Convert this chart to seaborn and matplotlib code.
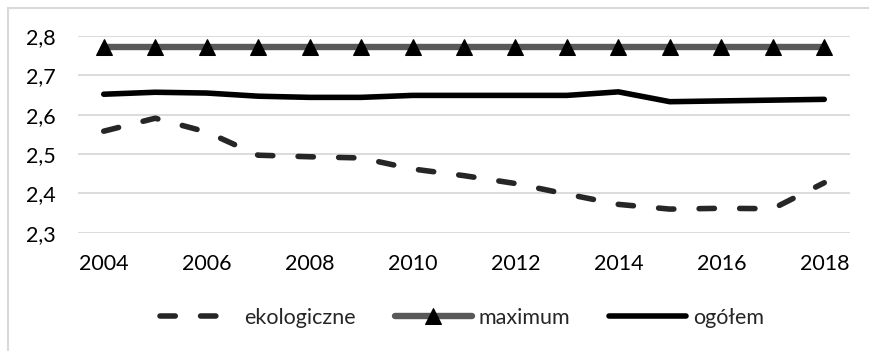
import matplotlib
matplotlib.use("Agg")
import matplotlib.pyplot as plt
from matplotlib.patches import Rectangle
import seaborn as sns
import pandas as pd

# Series values per year
years = [2004, 2005, 2006, 2007, 2008, 2009, 2010, 2011, 2012, 2013, 2014, 2015, 2016, 2017, 2018]
ekologiczne = [2.558, 2.591, 2.556, 2.497, 2.493, 2.490, 2.462, 2.445, 2.425, 2.398, 2.372, 2.360, 2.362, 2.361, 2.427]
maximum = [2.773] * 15
ogolem = [2.652, 2.657, 2.655, 2.647, 2.644, 2.644, 2.649, 2.649, 2.649, 2.649, 2.658, 2.633, 2.635, 2.637, 2.639]

x_ticks = [2004, 2006, 2008, 2010, 2012, 2014, 2016, 2018]
y_ticks = [2.3, 2.4, 2.5, 2.6, 2.7, 2.8]

df = pd.DataFrame({"rok": years, "ekologiczne": ekologiczne,
                   "maximum": maximum, "ogółem": ogolem})

sns.set_theme(style="white")
plt.rcParams["font.family"] = ["Lato", "DejaVu Sans"]

fig = plt.figure(figsize=(8.7, 3.51), dpi=100)
ax = fig.add_axes([78 / 870, 1 - 232.7 / 351, (850 - 78) / 870, (232.7 - 36) / 351])

# light frame around the chart area
fig.patches.append(Rectangle((8.5 / 870, -0.5), 2.0, 1 - 7.5 / 351 + 0.5,
                             transform=fig.transFigure, fill=False,
                             edgecolor="#d9d9d9", linewidth=1.5, zorder=0))

sns.lineplot(data=df, x="rok", y="ekologiczne", ax=ax, color="#262626",
             linewidth=4.0, label="ekologiczne", dashes=False,
             solid_capstyle="round")
ax.lines[-1].set_linestyle((0, (2.75, 4.55)))
ax.lines[-1].set_dash_capstyle("round")

sns.lineplot(data=df, x="rok", y="maximum", ax=ax, color="#595959",
             linewidth=4.6, label="maximum", marker="^", markersize=11,
             markerfacecolor="black", markeredgecolor="black")

sns.lineplot(data=df, x="rok", y="ogółem", ax=ax, color="black",
             linewidth=4.0, label="ogółem", solid_capstyle="round")

ax.set_xlim(2003.5, 2018.5)
ax.set_ylim(2.3, 2.8)
ax.set_xticks(x_ticks)
ax.set_yticks(y_ticks)
ax.set_yticklabels([f"{v:.1f}".replace(".", ",") for v in y_ticks])
ax.set_xticklabels([str(v) for v in x_ticks])
ax.set_xlabel("")
ax.set_ylabel("")
ax.grid(axis="y", color="#d9d9d9", linewidth=1.3)
ax.set_axisbelow(True)
for s in ax.spines.values():
    s.set_visible(False)
ax.tick_params(axis="both", length=0, labelsize=15.5, colors="black")
ax.tick_params(axis="x", pad=15)
ax.tick_params(axis="y", pad=16)

leg = ax.legend(loc="center", bbox_to_anchor=(462 / 870, 1 - 318 / 351),
                bbox_transform=fig.transFigure, ncol=3, frameon=False,
                fontsize=15.5, handlelength=3.6, handletextpad=0.3,
                columnspacing=1.8)

fig.savefig("out.png", dpi=100, facecolor="white")
